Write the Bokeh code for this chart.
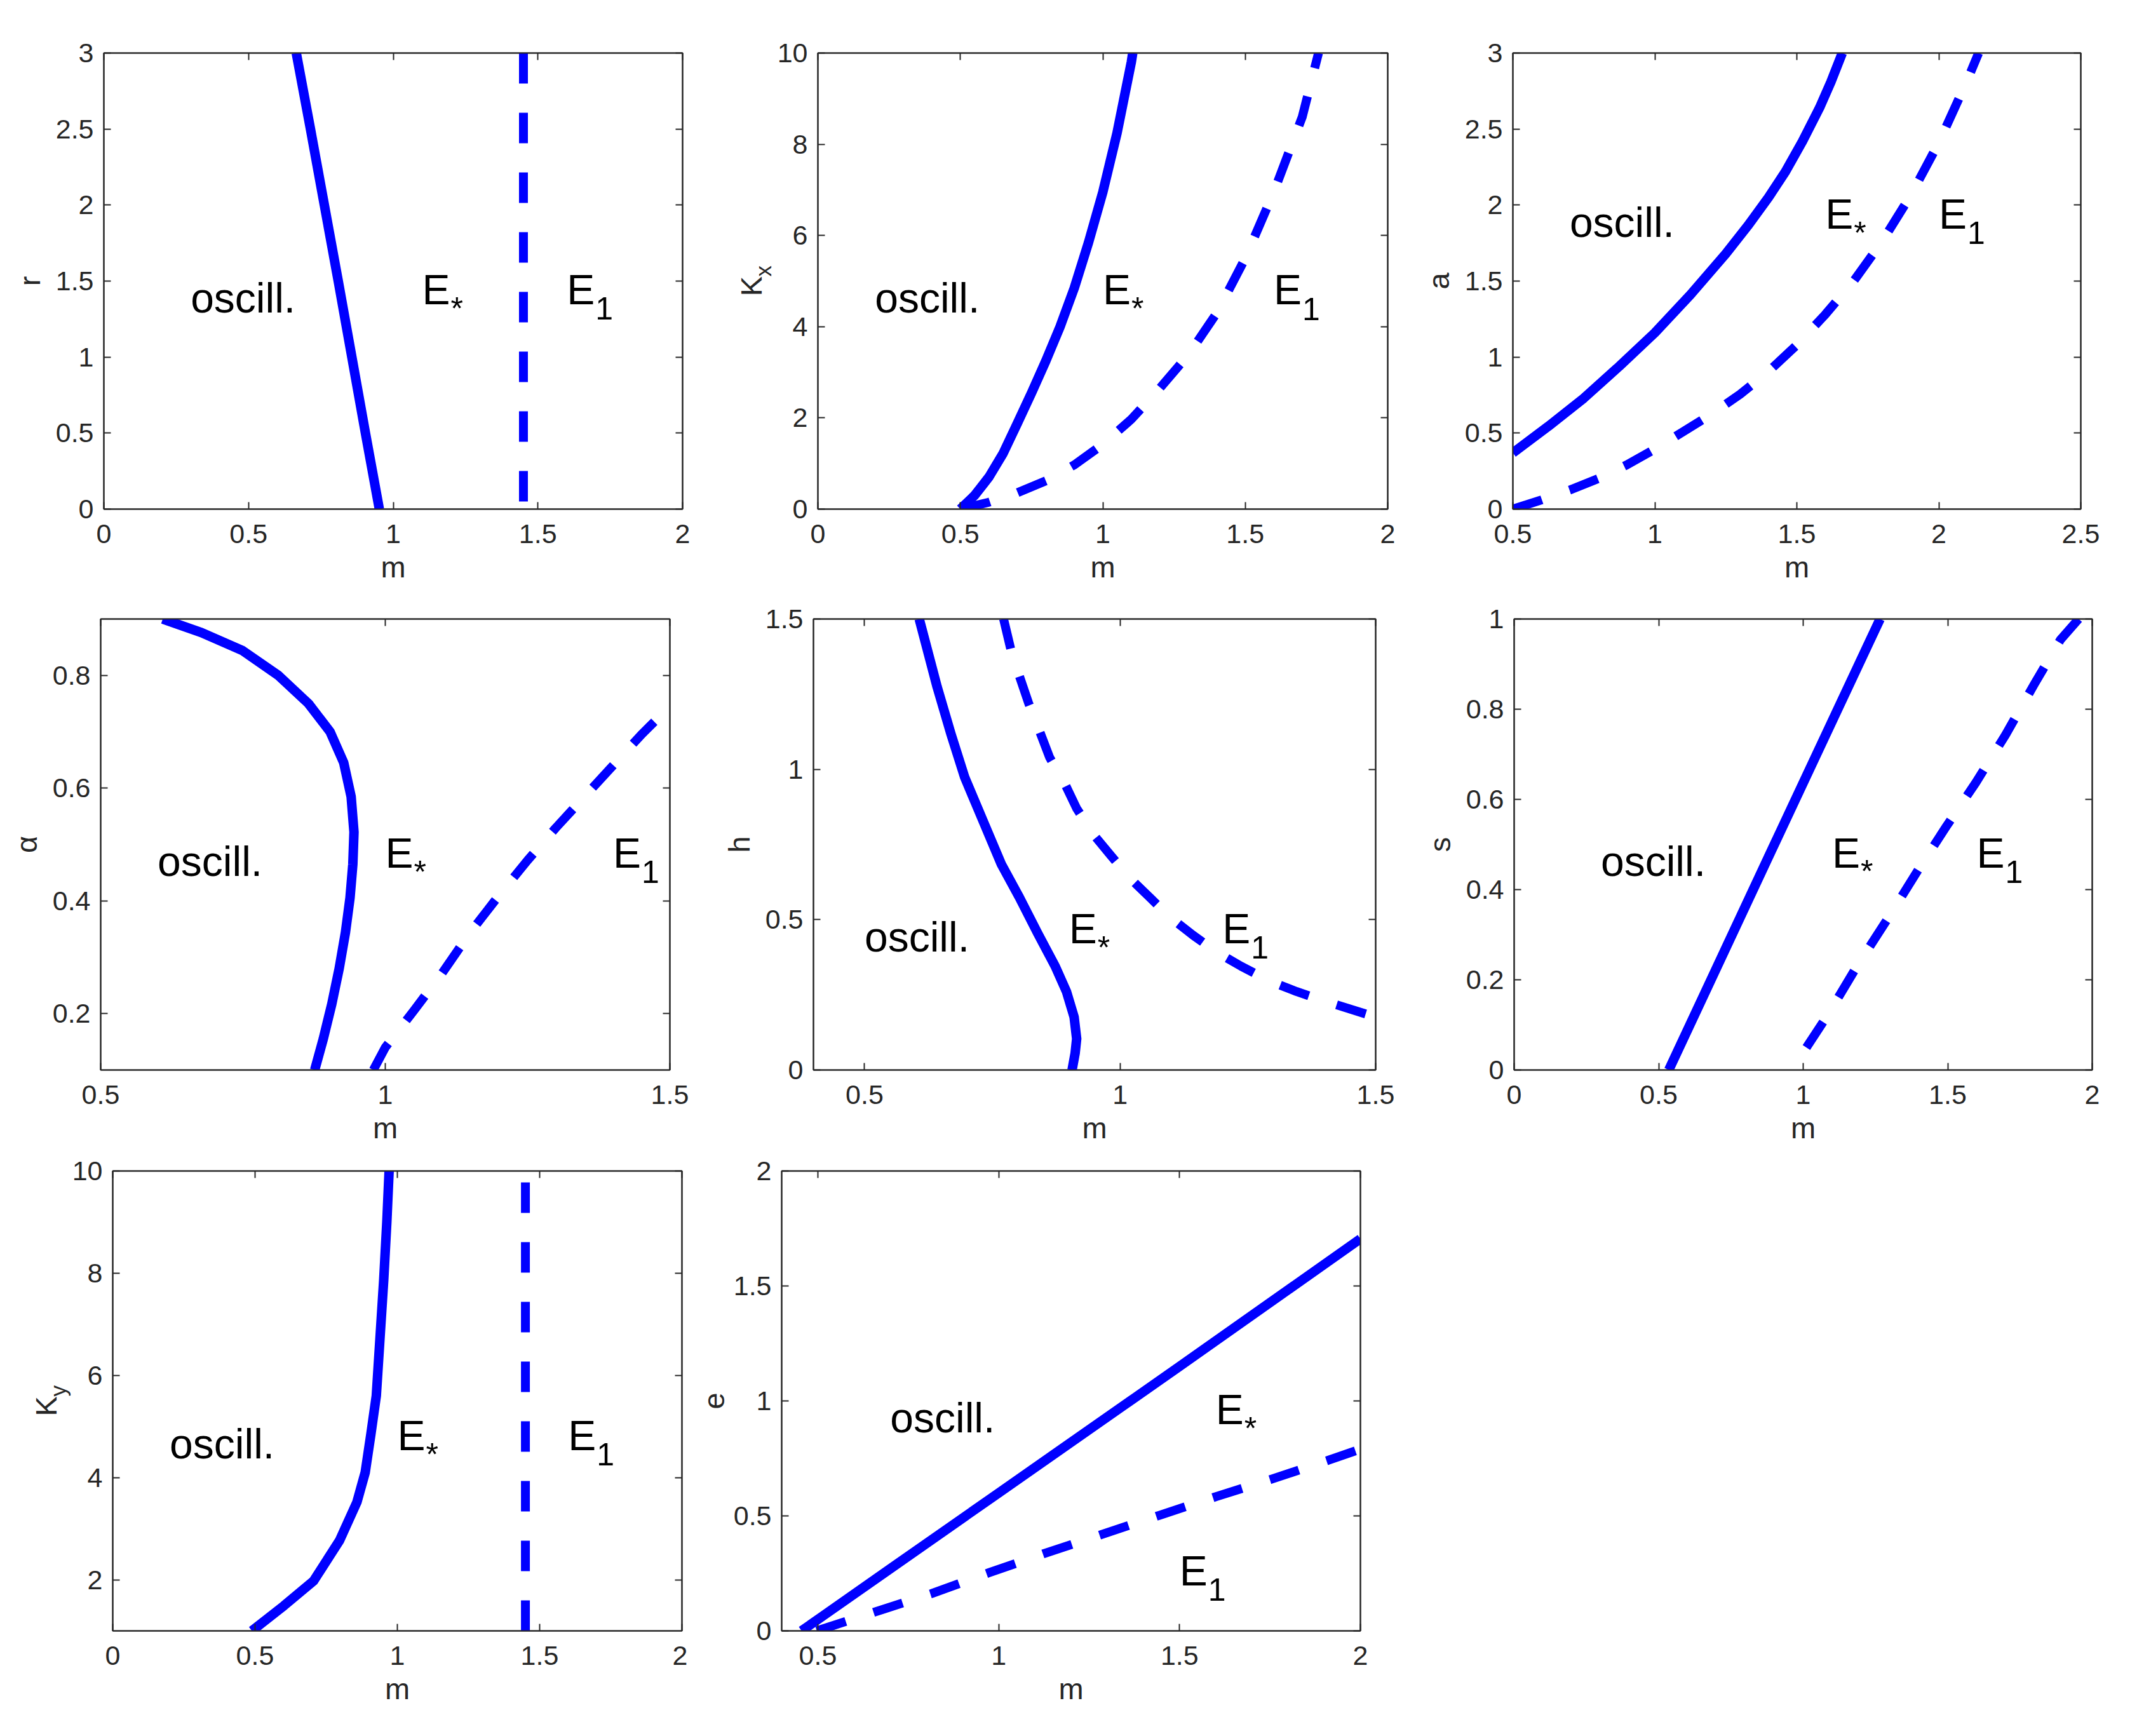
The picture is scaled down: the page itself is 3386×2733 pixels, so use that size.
import math
from bokeh.plotting import figure
from bokeh.models import Range1d, LinearAxis, FixedTicker, ColumnDataSource, NumeralTickFormatter
from bokeh.layouts import row, column
from bokeh.embed import file_html
from bokeh.resources import INLINE
from bokeh.core.properties import value

# ------------------------------------------------------------------ data
# Panel 1 : r versus m
p1_star_m = [0.952, 0.904, 0.857, 0.810, 0.762, 0.714, 0.665]
p1_star_r = [0, 0.5, 1, 1.5, 2, 2.5, 3]
p1_e1_m = [1.45, 1.45]
p1_e1_r = [3, 0]

# Panel 2 : K_x versus m
p2_star_m = [0.5, 0.55, 0.6, 0.65, 0.7, 0.75, 0.8, 0.85, 0.9, 0.95, 1.0, 1.05, 1.1, 1.105]
p2_star_k = [0, 0.3, 0.7, 1.22, 1.88, 2.55, 3.25, 4.0, 4.85, 5.85, 6.95, 8.25, 9.8, 10]
p2_e1_m = [0.5, 0.6, 0.7, 0.8, 0.9, 1.0, 1.1, 1.2, 1.3, 1.4, 1.5, 1.6, 1.7, 1.757]
p2_e1_k = [0, 0.15, 0.36, 0.62, 0.97, 1.42, 1.97, 2.65, 3.38, 4.3, 5.5, 6.95, 8.6, 10]

# Panel 3 : a versus m
p3_star_m = [0.5, 0.625, 0.75, 0.875, 1.0, 1.125, 1.25, 1.33, 1.4, 1.46, 1.52, 1.58, 1.62, 1.66]
p3_star_a = [0.37, 0.545, 0.73, 0.94, 1.16, 1.41, 1.68, 1.87, 2.05, 2.22, 2.42, 2.64, 2.81, 3.0]
p3_e1_m = [0.5, 0.6, 0.7, 0.8, 0.9, 1.0, 1.1, 1.2, 1.3, 1.4, 1.5, 1.6, 1.7, 1.8, 1.9, 2.0, 2.1, 2.14]
p3_e1_a = [0, 0.06, 0.125, 0.2, 0.29, 0.395, 0.51, 0.625, 0.755, 0.905, 1.08, 1.28, 1.50, 1.76, 2.06, 2.41, 2.82, 3.0]

# Panel 4 : alpha versus m
p4_star_m = [0.609, 0.677, 0.749, 0.812, 0.865, 0.903, 0.927, 0.940, 0.945, 0.943, 0.938, 0.930, 0.919, 0.906, 0.891, 0.876]
p4_star_al = [0.9, 0.876, 0.844, 0.80, 0.75, 0.70, 0.645, 0.585, 0.522, 0.465, 0.405, 0.344, 0.28, 0.217, 0.155, 0.1]
p4_e1_m = [0.979, 1.0, 1.05, 1.1, 1.15, 1.2, 1.25, 1.3, 1.35, 1.4, 1.45, 1.5]
p4_e1_al = [0.1, 0.14, 0.205, 0.272, 0.345, 0.41, 0.472, 0.53, 0.585, 0.64, 0.695, 0.745]

# Panel 5 : h versus m
p5_star_m = [0.607, 0.642, 0.669, 0.696, 0.732, 0.768, 0.803, 0.839, 0.873, 0.895, 0.910, 0.915, 0.912, 0.906]
p5_star_h = [1.5, 1.274, 1.118, 0.973, 0.828, 0.683, 0.574, 0.454, 0.345, 0.261, 0.176, 0.104, 0.056, 0.0]
p5_e1_m = [0.772, 0.786, 0.803, 0.821, 0.844, 0.862, 0.893, 0.915, 0.947, 0.982, 1.018, 1.058, 1.098,
           1.143, 1.188, 1.237, 1.291, 1.345, 1.399, 1.5]
p5_e1_h = [1.5, 1.4, 1.31, 1.22, 1.12, 1.04, 0.948, 0.87, 0.785, 0.713, 0.64, 0.574, 0.508,
           0.448, 0.393, 0.345, 0.297, 0.261, 0.23, 0.176]

# Panel 6 : s versus m
p6_star_m = [0.535, 0.9, 1.266]
p6_star_s = [0, 0.5, 1]
p6_e1_m = [1.953, 1.89, 1.80, 1.70, 1.597, 1.495, 1.40, 1.297, 1.187, 1.084, 0.96]
p6_e1_s = [1.0, 0.954, 0.856, 0.743, 0.637, 0.54, 0.446, 0.34, 0.231, 0.121, 0]

# Panel 7 : K_y versus m
p7_star_m = [0.489, 0.601, 0.706, 0.797, 0.858, 0.887, 0.907, 0.926, 0.939, 0.952, 0.963, 0.971]
p7_star_k = [1, 1.49, 1.98, 2.77, 3.52, 4.10, 4.85, 5.6, 6.73, 7.86, 9.0, 10]
p7_e1_m = [1.45, 1.45]
p7_e1_k = [1, 10]

# Panel 8 : e versus m
p8_star_m = [0.455, 0.7, 1.0, 1.5, 2.0]
p8_star_e = [0.0, 0.27, 0.6, 1.15, 1.705]
p8_e1_m = [0.497, 0.814, 0.973, 1.125, 1.284, 1.443, 1.601, 1.753, 1.911, 2.0]
p8_e1_e = [0, 0.162, 0.253, 0.336, 0.419, 0.502, 0.584, 0.659, 0.742, 0.79]

# region labels (text x = left edge, text y = vertical middle), order: oscill., E*, E1
p1_lab_x = [0.3, 1.1, 1.6];  p1_lab_y = [1.5, 1.5, 1.5]
p2_lab_x = [0.2, 1.0, 1.6];  p2_lab_y = [5, 5, 5]
p3_lab_x = [0.7, 1.6, 2.0];  p3_lab_y = [2, 2, 2]
p4_lab_x = [0.6, 1.0, 1.4];  p4_lab_y = [0.5, 0.5, 0.5]
p5_lab_x = [0.5, 0.9, 1.2];  p5_lab_y = [0.5, 0.5, 0.5]
p6_lab_x = [0.3, 1.1, 1.6];  p6_lab_y = [0.5, 0.5, 0.5]
p7_lab_x = [0.2, 1.0, 1.6];  p7_lab_y = [5, 5, 5]
p8_lab_x = [0.7, 1.6, 1.5];  p8_lab_y = [1.0, 1.0, 0.3]
lab_main = ["oscill.", "E", "E"]
lab_sub = ["*", "1"]

# ticks
ticks_0_2 = [0, 0.5, 1, 1.5, 2];            labs_0_2 = ["0", "0.5", "1", "1.5", "2"]
ticks_0_3 = [0, 0.5, 1, 1.5, 2, 2.5, 3];    labs_0_3 = ["0", "0.5", "1", "1.5", "2", "2.5", "3"]
ticks_0_10 = [0, 2, 4, 6, 8, 10];           labs_0_10 = ["0", "2", "4", "6", "8", "10"]
ticks_05_25 = [0.5, 1, 1.5, 2, 2.5];        labs_05_25 = ["0.5", "1", "1.5", "2", "2.5"]
ticks_05_15 = [0.5, 1, 1.5];                labs_05_15 = ["0.5", "1", "1.5"]
ticks_al = [0.2, 0.4, 0.6, 0.8];            labs_al = ["0.2", "0.4", "0.6", "0.8"]
ticks_0_15 = [0, 0.5, 1, 1.5];              labs_0_15 = ["0", "0.5", "1", "1.5"]
ticks_0_1 = [0, 0.2, 0.4, 0.6, 0.8, 1];     labs_0_1 = ["0", "0.2", "0.4", "0.6", "0.8", "1"]
ticks_2_10 = [2, 4, 6, 8, 10];              labs_2_10 = ["2", "4", "6", "8", "10"]
ticks_05_2 = [0.5, 1, 1.5, 2];              labs_05_2 = ["0.5", "1", "1.5", "2"]
ticks_0_2y = [0, 0.5, 1, 1.5, 2];           labs_0_2y = ["0", "0.5", "1", "1.5", "2"]

# ------------------------------------------------------------------ style / layout
FONT = "Liberation Sans"
AX = "#262626"
BLUE = "#0000FF"
TICK_FS = "43px"
LABEL_FS = "47px"
MAIN_FS = "66px"
SUB_FS = "50px"
OVERLAP = 20

# visual extent of each row (rows 2 and 3 overlap the previous row by OVERLAP px)
ROWS = [(8, 950), (950 - OVERLAP, 1832), (1832 - OVERLAP, 2725)]
COLS12 = [(8, 1110), (1110, 2230), (2230, 3378)]
COLS3 = [(8, 1090), (1090, 2230)]

panels = [
    dict(r=0, c=COLS12[0], frame=(171, 1082, 77, 809), xlim=(0, 2), ylim=(0, 3),
         xt=(ticks_0_2, labs_0_2), yt=(ticks_0_3, labs_0_3), ylab="r",
         solid=(p1_star_m, p1_star_r), dash=(p1_e1_m, p1_e1_r), lab=(p1_lab_x, p1_lab_y)),
    dict(r=0, c=COLS12[1], frame=(1295, 2192, 87, 812), xlim=(0, 2), ylim=(0, 10),
         xt=(ticks_0_2, labs_0_2), yt=(ticks_0_10, labs_0_10), ylab=("K", "x"),
         solid=(p2_star_m, p2_star_k), dash=(p2_e1_m, p2_e1_k), lab=(p2_lab_x, p2_lab_y)),
    dict(r=0, c=COLS12[2], frame=(2389, 3283, 91, 812), xlim=(0.5, 2.5), ylim=(0, 3),
         xt=(ticks_05_25, labs_05_25), yt=(ticks_0_3, labs_0_3), ylab="a",
         solid=(p3_star_m, p3_star_a), dash=(p3_e1_m, p3_e1_a), lab=(p3_lab_x, p3_lab_y)),
    dict(r=1, c=COLS12[0], frame=(166, 1062, 972, 1694), xlim=(0.5, 1.5), ylim=(0.1, 0.9),
         xt=(ticks_05_15, labs_05_15), yt=(ticks_al, labs_al), ylab="α",
         solid=(p4_star_m, p4_star_al), dash=(p4_e1_m, p4_e1_al), lab=(p4_lab_x, p4_lab_y)),
    dict(r=1, c=COLS12[1], frame=(1288, 2173, 982, 1696), xlim=(0.4, 1.5), ylim=(0, 1.5),
         xt=(ticks_05_15, labs_05_15), yt=(ticks_0_15, labs_0_15), ylab="h",
         solid=(p5_star_m, p5_star_h), dash=(p5_e1_m, p5_e1_h), lab=(p5_lab_x, p5_lab_y)),
    dict(r=1, c=COLS12[2], frame=(2391, 3301, 958, 1692), xlim=(0, 2), ylim=(0, 1),
         xt=(ticks_0_2, labs_0_2), yt=(ticks_0_1, labs_0_1), ylab="s",
         solid=(p6_star_m, p6_star_s), dash=(p6_e1_m, p6_e1_s), lab=(p6_lab_x, p6_lab_y)),
    dict(r=2, c=COLS3[0], frame=(185, 1081, 1851, 2576), xlim=(0, 2), ylim=(1, 10),
         xt=(ticks_0_2, labs_0_2), yt=(ticks_2_10, labs_2_10), ylab=("K", "y"),
         solid=(p7_star_m, p7_star_k), dash=(p7_e1_m, p7_e1_k), lab=(p7_lab_x, p7_lab_y)),
    dict(r=2, c=COLS3[1], frame=(1238, 2149, 1841, 2575), xlim=(0.4, 2), ylim=(0, 2),
         xt=(ticks_05_2, labs_05_2), yt=(ticks_0_2y, labs_0_2y), ylab="e",
         solid=(p8_star_m, p8_star_e), dash=(p8_e1_m, p8_e1_e), lab=(p8_lab_x, p8_lab_y)),
]


def style_axis(ax, ticks, labels, show, standoff=0):
    ax.ticker = FixedTicker(ticks=list(ticks))
    ax.formatter = NumeralTickFormatter(format="0.[0]")
    ax.major_tick_in = 11
    ax.major_tick_out = 0
    ax.minor_tick_line_color = None
    ax.axis_line_color = AX
    ax.axis_line_width = 2
    ax.major_tick_line_color = AX
    ax.major_tick_line_width = 2
    if show:
        ax.major_label_overrides = {float(t): s for t, s in zip(ticks, labels)}
        ax.major_label_text_font = FONT
        ax.major_label_text_font_size = TICK_FS
        ax.major_label_text_color = AX
        ax.major_label_standoff = standoff
        ax.axis_label_text_font = FONT
        ax.axis_label_text_font_size = LABEL_FS
        ax.axis_label_text_font_style = "normal"
        ax.axis_label_text_color = AX
    else:
        ax.major_label_text_font_size = "0px"
        ax.major_label_text_alpha = 0
        ax.major_label_standoff = 0
        ax.axis_label = None


def build(cfg):
    r0, r1 = ROWS[cfg["r"]]
    c0, c1 = cfg["c"]
    l, r, t, b = cfg["frame"]
    xlim, ylim = cfg["xlim"], cfg["ylim"]
    p = figure(width=c1 - c0, height=r1 - r0,
               x_range=Range1d(*xlim), y_range=Range1d(*ylim),
               min_border_left=l - c0, min_border_right=c1 - r,
               min_border_top=t - r0, min_border_bottom=r1 - b,
               output_backend="svg", toolbar_location=None, tools="")
    p.background_fill_color = "white"
    p.border_fill_alpha = 0
    p.outline_line_color = AX
    p.outline_line_width = 2
    p.xgrid.visible = False
    p.ygrid.visible = False

    fw, fh = r - l, b - t
    dxp = (xlim[1] - xlim[0]) / fw
    dyp = (ylim[1] - ylim[0]) / fh

    xax = p.below[0]
    yax = p.left[0]
    style_axis(xax, *cfg["xt"], True, standoff=24)
    style_axis(yax, *cfg["yt"], True, standoff=16)
    xax.axis_label = "m"
    xax.axis_label_standoff = 8
    yax.axis_label_standoff = 12
    if isinstance(cfg["ylab"], str):
        yax.axis_label = cfg["ylab"]
    else:
        # y label with a subscript: two rotated texts drawn outside the frame
        yax.axis_label = None
        main, sub = cfg["ylab"]
        ymid = 0.5 * (ylim[0] + ylim[1])
        ysrc = ColumnDataSource(dict(x=[xlim[0] - 105 * dxp, xlim[0] - 86 * dxp],
                                     y=[ymid - 24 * dyp, ymid + 7 * dyp],
                                     text=[main, sub], fs=[LABEL_FS, "35px"]))
        p.text(x="x", y="y", text="text", source=ysrc, angle=math.pi / 2,
               text_font=value(FONT), text_font_size="fs", text_color=AX,
               text_align="left", text_baseline="alphabetic", level="overlay")

    top = LinearAxis()
    style_axis(top, *cfg["xt"], False)
    p.add_layout(top, "above")
    right = LinearAxis()
    style_axis(right, *cfg["yt"], False)
    p.add_layout(right, "right")

    sx, sy = cfg["solid"]
    p.line(sx, sy, line_color=BLUE, line_width=15, line_join="round", line_cap="butt")
    dx_, dy_ = cfg["dash"]
    p.line(dx_, dy_, line_color=BLUE, line_width=14, line_dash="48 46", line_join="round", line_cap="butt")

    lx, ly = cfg["lab"]
    offs = [27, 14, 14]
    by = [y - o * dyp for y, o in zip(ly, offs)]
    src = ColumnDataSource(dict(x=lx, y=by, text=lab_main))
    p.text(x="x", y="y", text="text", source=src, text_font=value(FONT),
           text_font_size=value(MAIN_FS), text_color="black",
           text_align="left", text_baseline="alphabetic")
    ssrc = ColumnDataSource(dict(x=lx[1:], y=[v - 30 * dyp for v in by[1:]], text=lab_sub))
    p.text(x="x", y="y", text="text", source=ssrc, x_offset=45, text_font=value(FONT),
           text_font_size=value(SUB_FS), text_color="black",
           text_align="left", text_baseline="alphabetic")
    return p


figs = [build(c) for c in panels]
layout = column(row(figs[0], figs[1], figs[2]),
                row(figs[3], figs[4], figs[5], margin=(-OVERLAP, 0, 0, 0)),
                row(figs[6], figs[7], margin=(-OVERLAP, 0, 0, 0)))

open("out.html", "w").write(file_html(layout, INLINE))
